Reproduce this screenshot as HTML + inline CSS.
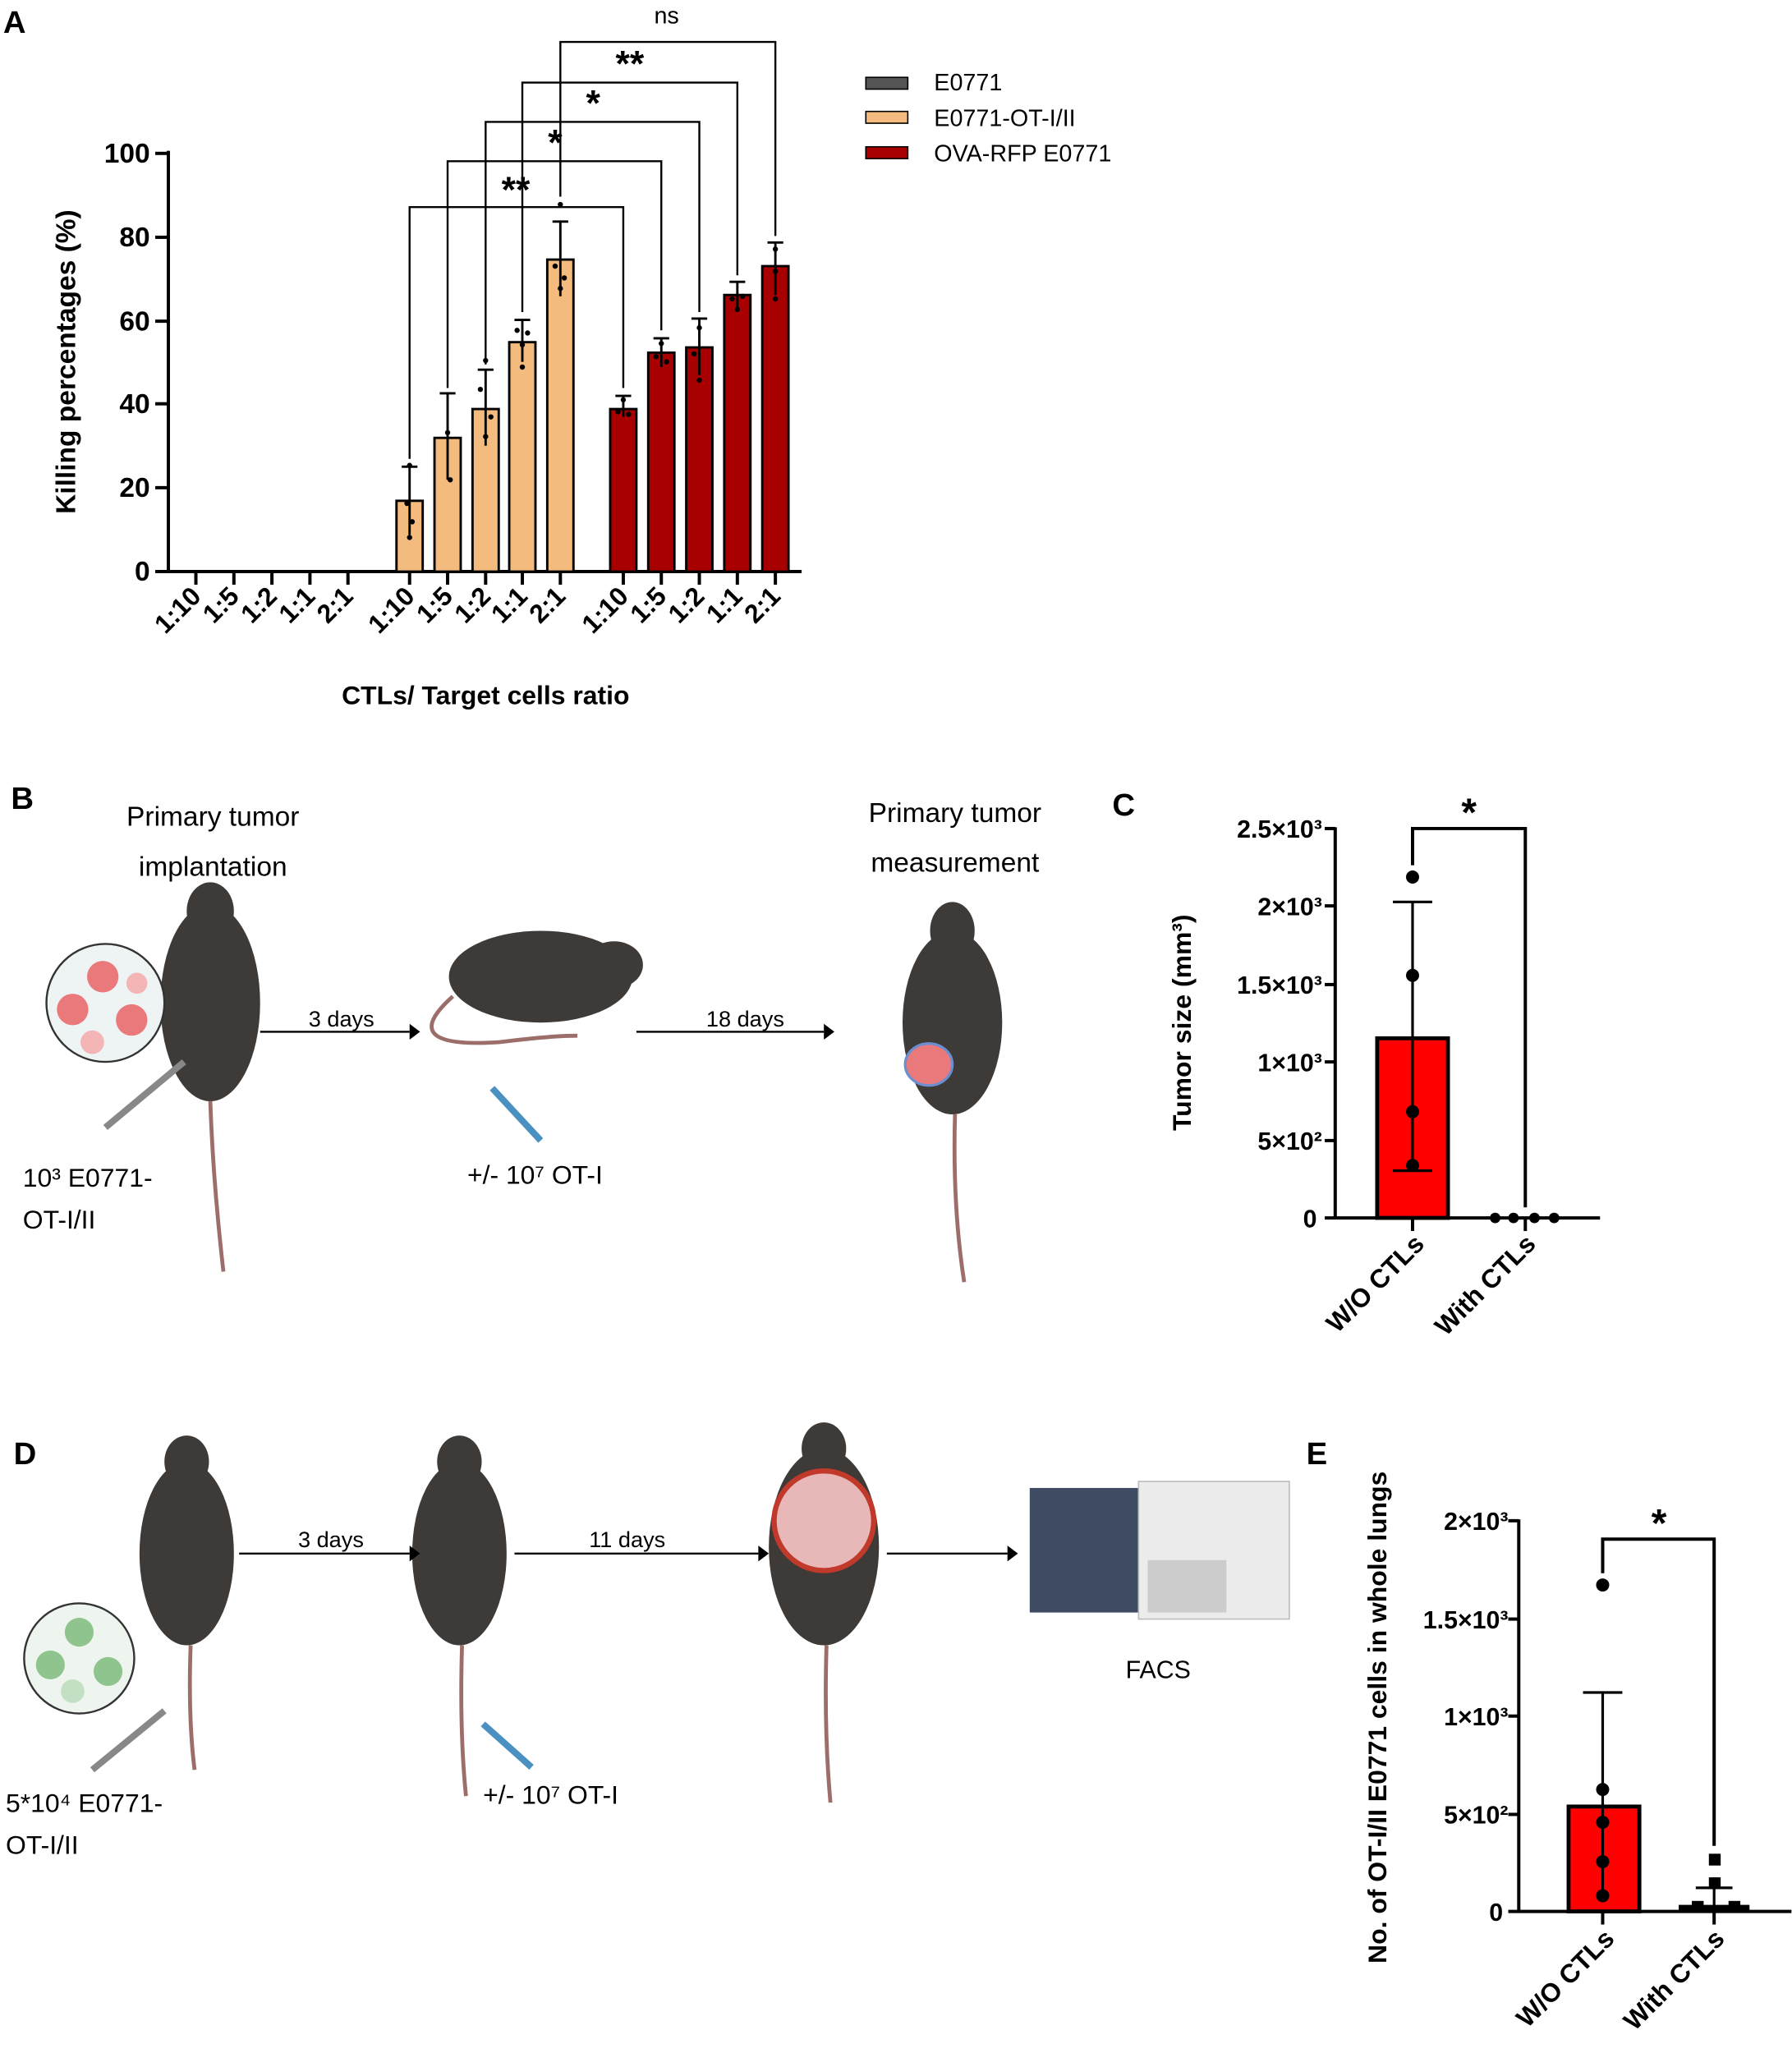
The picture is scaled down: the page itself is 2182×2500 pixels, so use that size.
<!DOCTYPE html>
<html><head><meta charset="utf-8"><style>
html,body{margin:0;padding:0;background:#fff}
svg{display:block}
text{font-family:"Liberation Sans",sans-serif}
</style></head><body>
<svg width="2182" height="2500" viewBox="0 0 1366 1566" xmlns="http://www.w3.org/2000/svg">
<rect width="1366" height="1566" fill="#fff"/>
<!-- Panel A -->
<text x="2" y="25" font-size="24" font-weight="bold">A</text>
<g stroke="#000" stroke-width="2.5" fill="none">
<line x1="128" y1="115" x2="128" y2="437"/>
<line x1="118" y1="436" x2="611" y2="436"/>
<line x1="118" y1="117" x2="128" y2="117"/><line x1="118" y1="181" x2="128" y2="181"/><line x1="118" y1="245" x2="128" y2="245"/><line x1="118" y1="308" x2="128" y2="308"/><line x1="118" y1="372" x2="128" y2="372"/>
</g>
<g font-size="21" font-weight="bold" text-anchor="end">
<text x="114" y="124">100</text><text x="114" y="188">80</text><text x="114" y="252">60</text><text x="114" y="315">40</text><text x="114" y="379">20</text><text x="114" y="443">0</text>
</g>
<text transform="translate(57,276) rotate(-90)" font-size="21" font-weight="bold" text-anchor="middle">Killing percentages (%)</text>
<g stroke="#000" stroke-width="2.5">
<line x1="149" y1="436" x2="149" y2="446"/><line x1="178" y1="436" x2="178" y2="446"/><line x1="207" y1="436" x2="207" y2="446"/><line x1="236" y1="436" x2="236" y2="446"/><line x1="265" y1="436" x2="265" y2="446"/>
<line x1="312" y1="436" x2="312" y2="446"/><line x1="341" y1="436" x2="341" y2="446"/><line x1="370" y1="436" x2="370" y2="446"/><line x1="398" y1="436" x2="398" y2="446"/><line x1="427" y1="436" x2="427" y2="446"/>
<line x1="475" y1="436" x2="475" y2="446"/><line x1="504" y1="436" x2="504" y2="446"/><line x1="533" y1="436" x2="533" y2="446"/><line x1="562" y1="436" x2="562" y2="446"/><line x1="591" y1="436" x2="591" y2="446"/>
</g>
<g font-size="20" font-weight="bold" text-anchor="end">
<text transform="translate(154,456) rotate(-45)">1:10</text><text transform="translate(183,456) rotate(-45)">1:5</text><text transform="translate(212,456) rotate(-45)">1:2</text><text transform="translate(241,456) rotate(-45)">1:1</text><text transform="translate(270,456) rotate(-45)">2:1</text>
<text transform="translate(317,456) rotate(-45)">1:10</text><text transform="translate(346,456) rotate(-45)">1:5</text><text transform="translate(375,456) rotate(-45)">1:2</text><text transform="translate(403,456) rotate(-45)">1:1</text><text transform="translate(432,456) rotate(-45)">2:1</text>
<text transform="translate(480,456) rotate(-45)">1:10</text><text transform="translate(509,456) rotate(-45)">1:5</text><text transform="translate(538,456) rotate(-45)">1:2</text><text transform="translate(567,456) rotate(-45)">1:1</text><text transform="translate(596,456) rotate(-45)">2:1</text>
</g>
<text x="370" y="537" font-size="20" font-weight="bold" text-anchor="middle">CTLs/ Target cells ratio</text>
<g stroke="#000" stroke-width="1.8">
<rect x="302" y="382" width="20" height="54" fill="#f4bb7e"/>
<rect x="331" y="334" width="20" height="102" fill="#f4bb7e"/>
<rect x="360" y="312" width="20" height="124" fill="#f4bb7e"/>
<rect x="388" y="261" width="20" height="175" fill="#f4bb7e"/>
<rect x="417" y="198" width="20" height="238" fill="#f4bb7e"/>
<rect x="465" y="312" width="20" height="124" fill="#a80000"/>
<rect x="494" y="269" width="20" height="167" fill="#a80000"/>
<rect x="523" y="265" width="20" height="171" fill="#a80000"/>
<rect x="552" y="225" width="20" height="211" fill="#a80000"/>
<rect x="581" y="203" width="20" height="233" fill="#a80000"/>
<path d="M312 356V408M306 356h12M341 300V366M335 300h12M370 282V340M364 282h12M398 244V276M392 244h12M427 169V226M421 169h12M475 302V318M469 302h12M504 258V280M498 258h12M533 243V286M527 243h12M562 215V235M556 215h12M591 185V225M585 185h12" fill="none"/>
</g>
<g fill="#000">
<circle cx="312" cy="355" r="2"/><circle cx="310" cy="384" r="2"/><circle cx="314" cy="398" r="2"/><circle cx="312" cy="410" r="2"/>
<circle cx="341" cy="330" r="2"/><circle cx="343" cy="366" r="2"/>
<circle cx="370" cy="275" r="2"/><circle cx="366" cy="297" r="2"/><circle cx="374" cy="318" r="2"/><circle cx="370" cy="333" r="2"/>
<circle cx="394" cy="252" r="2"/><circle cx="402" cy="254" r="2"/><circle cx="398" cy="263" r="2"/><circle cx="398" cy="280" r="2"/>
<circle cx="427" cy="156" r="2"/><circle cx="423" cy="203" r="2"/><circle cx="430" cy="212" r="2"/><circle cx="427" cy="220" r="2"/>
<circle cx="471" cy="314" r="2"/><circle cx="479" cy="316" r="2"/><circle cx="475" cy="305" r="2"/>
<circle cx="504" cy="262" r="2"/><circle cx="500" cy="272" r="2"/><circle cx="508" cy="276" r="2"/>
<circle cx="533" cy="250" r="2"/><circle cx="529" cy="270" r="2"/><circle cx="533" cy="290" r="2"/>
<circle cx="558" cy="228" r="2"/><circle cx="566" cy="226" r="2"/><circle cx="562" cy="236" r="2"/>
<circle cx="591" cy="190" r="2"/><circle cx="591" cy="207" r="2"/><circle cx="591" cy="228" r="2"/>
</g>
<g stroke="#000" stroke-width="1.5" fill="none">
<path d="M312 350V158H475V296"/><path d="M341 296V123H504V252"/><path d="M370 278V93H533V238"/><path d="M398 238V63H562V210"/><path d="M427 150V32H591V180"/>
</g>
<g font-size="28" font-weight="bold" text-anchor="middle">
<text x="393" y="154">**</text><text x="423" y="118">*</text><text x="452" y="88">*</text><text x="480" y="58">**</text>
</g>
<text x="508" y="18" font-size="18" text-anchor="middle">ns</text>
<rect x="660" y="59" width="32" height="9" fill="#555" stroke="#000"/>
<rect x="660" y="85" width="32" height="9" fill="#f4bb7e" stroke="#000"/>
<rect x="660" y="112" width="32" height="9" fill="#a80000" stroke="#000"/>
<g font-size="18"><text x="712" y="69">E0771</text><text x="712" y="96">E0771-OT-I/II</text><text x="712" y="123">OVA-RFP E0771</text></g>

<!-- Panel B -->
<text x="8" y="617" font-size="24" font-weight="bold">B</text>
<g font-size="21" text-anchor="middle"><text x="162" y="630">Primary tumor</text><text x="162" y="668">implantation</text>
<text x="728" y="627">Primary tumor</text><text x="728" y="665">measurement</text></g>
<g fill="#3d3a38">
<ellipse cx="160" cy="765" rx="38" ry="75"/><ellipse cx="160" cy="695" rx="18" ry="22"/>
<ellipse cx="412" cy="745" rx="70" ry="35"/><ellipse cx="468" cy="736" rx="22" ry="18"/>
<ellipse cx="726" cy="780" rx="38" ry="70"/><ellipse cx="726" cy="710" rx="17" ry="22"/>
</g>
<g stroke="#9b6e6a" stroke-width="3" fill="none">
<path d="M160 840 Q162 900 170 970"/><path d="M345 760 Q300 800 380 795 Q420 790 440 790"/><path d="M728 850 Q726 920 735 978"/>
</g>
<circle cx="80" cy="765" r="45" fill="#eef4f4" stroke="#333" stroke-width="1.5"/>
<g fill="#e9797b"><circle cx="78" cy="745" r="12"/><circle cx="55" cy="770" r="12"/><circle cx="100" cy="778" r="12"/><circle cx="70" cy="795" r="9" fill="#f3b5b5"/><circle cx="104" cy="750" r="8" fill="#f3b5b5"/></g>
<ellipse cx="708" cy="812" rx="18" ry="16" fill="#e9797b" stroke="#6a8fd0" stroke-width="2"/>
<line x1="80" y1="860" x2="140" y2="810" stroke="#888" stroke-width="5"/>
<line x1="375" y1="830" x2="412" y2="870" stroke="#4a90c0" stroke-width="5"/>
<g stroke="#000" stroke-width="1.5"><line x1="198" y1="787" x2="312" y2="787"/><line x1="485" y1="787" x2="628" y2="787"/></g>
<path d="M312 781l8 6-8 6z M628 781l8 6-8 6z"/>
<g font-size="17" text-anchor="middle"><text x="260" y="783">3 days</text><text x="568" y="783">18 days</text></g>
<g font-size="20"><text x="17" y="905">10³ E0771-</text><text x="17" y="937">OT-I/II</text><text x="356" y="903">+/- 10⁷ OT-I</text></g>

<!-- Panel C -->
<text x="848" y="622" font-size="24" font-weight="bold">C</text>
<g stroke="#000" stroke-width="2.5" fill="none">
<line x1="1018" y1="631" x2="1018" y2="930"/><line x1="1010" y1="929" x2="1220" y2="929"/>
<line x1="1010" y1="632" x2="1018" y2="632"/><line x1="1010" y1="691" x2="1018" y2="691"/><line x1="1010" y1="751" x2="1018" y2="751"/><line x1="1010" y1="810" x2="1018" y2="810"/><line x1="1010" y1="870" x2="1018" y2="870"/>
<line x1="1077" y1="929" x2="1077" y2="939"/><line x1="1163" y1="929" x2="1163" y2="939"/>
</g>
<g font-size="19" font-weight="bold" text-anchor="end">
<text x="1008" y="639">2.5×10³</text><text x="1008" y="698">2×10³</text><text x="1008" y="758">1.5×10³</text><text x="1008" y="817">1×10³</text><text x="1008" y="877">5×10²</text><text x="1004" y="936">0</text>
</g>
<text transform="translate(908,780) rotate(-90)" font-size="20" font-weight="bold" text-anchor="middle">Tumor size (mm³)</text>
<rect x="1050" y="792" width="54" height="137" fill="#ff0000" stroke="#000" stroke-width="3"/>
<path d="M1077 688V893M1062 688h30M1062 893h30" stroke="#000" stroke-width="2" fill="none"/>
<g fill="#000"><circle cx="1077" cy="669" r="5"/><circle cx="1077" cy="744" r="5"/><circle cx="1077" cy="848" r="5"/><circle cx="1077" cy="889" r="5"/>
<circle cx="1140" cy="929" r="4"/><circle cx="1154" cy="929" r="4"/><circle cx="1170" cy="929" r="4"/><circle cx="1185" cy="929" r="4"/></g>
<path d="M1077 660V632H1163V921" stroke="#000" stroke-width="2.5" fill="none"/>
<text x="1120" y="630" font-size="30" font-weight="bold" text-anchor="middle">*</text>
<g font-size="20" font-weight="bold" text-anchor="end">
<text transform="translate(1087,950) rotate(-45)">W/O CTLs</text><text transform="translate(1172,950) rotate(-45)">With CTLs</text>
</g>

<!-- Panel D -->
<text x="10" y="1117" font-size="24" font-weight="bold">D</text>
<g fill="#3d3a38">
<ellipse cx="142" cy="1185" rx="36" ry="70"/><ellipse cx="142" cy="1115" rx="17" ry="20"/>
<ellipse cx="350" cy="1185" rx="36" ry="70"/><ellipse cx="350" cy="1115" rx="17" ry="20"/>
<ellipse cx="628" cy="1180" rx="42" ry="75"/><ellipse cx="628" cy="1105" rx="17" ry="20"/>
</g>
<circle cx="628" cy="1160" r="38" fill="#e8b8b8" stroke="#c0392b" stroke-width="4"/>
<g stroke="#9b6e6a" stroke-width="3" fill="none"><path d="M145 1255 Q143 1310 148 1350"/><path d="M352 1255 Q350 1320 355 1370"/><path d="M630 1255 Q628 1320 633 1375"/></g>
<circle cx="60" cy="1265" r="42" fill="#eef4ee" stroke="#333" stroke-width="1.5"/>
<g fill="#8fc48f"><circle cx="60" cy="1245" r="11"/><circle cx="38" cy="1270" r="11"/><circle cx="82" cy="1275" r="11"/><circle cx="55" cy="1290" r="9" fill="#c4e0c4"/></g>
<line x1="70" y1="1350" x2="125" y2="1305" stroke="#888" stroke-width="5"/>
<line x1="368" y1="1315" x2="405" y2="1348" stroke="#4a90c0" stroke-width="5"/>
<rect x="785" y="1135" width="100" height="95" fill="#3f4b63"/>
<rect x="868" y="1130" width="115" height="105" fill="#ececec" stroke="#bbb"/>
<rect x="875" y="1190" width="60" height="40" fill="#ccc"/>
<g stroke="#000" stroke-width="1.5"><line x1="182" y1="1185" x2="312" y2="1185"/><line x1="392" y1="1185" x2="578" y2="1185"/><line x1="676" y1="1185" x2="768" y2="1185"/></g>
<path d="M312 1179l8 6-8 6z M578 1179l8 6-8 6z M768 1179l8 6-8 6z"/>
<g font-size="17" text-anchor="middle"><text x="252" y="1180">3 days</text><text x="478" y="1180">11 days</text></g>
<text x="883" y="1280" font-size="19" text-anchor="middle">FACS</text>
<g font-size="20"><text x="4" y="1382">5*10⁴ E0771-</text><text x="4" y="1414">OT-I/II</text><text x="368" y="1376">+/- 10⁷ OT-I</text></g>

<!-- Panel E -->
<text x="996" y="1117" font-size="24" font-weight="bold">E</text>
<g stroke="#000" stroke-width="2.5" fill="none">
<line x1="1158" y1="1159" x2="1158" y2="1459"/><line x1="1150" y1="1458" x2="1366" y2="1458"/>
<line x1="1150" y1="1160" x2="1158" y2="1160"/><line x1="1150" y1="1235" x2="1158" y2="1235"/><line x1="1150" y1="1309" x2="1158" y2="1309"/><line x1="1150" y1="1384" x2="1158" y2="1384"/>
<line x1="1222" y1="1458" x2="1222" y2="1468"/><line x1="1307" y1="1458" x2="1307" y2="1468"/>
</g>
<g font-size="19" font-weight="bold" text-anchor="end">
<text x="1150" y="1167">2×10³</text><text x="1150" y="1242">1.5×10³</text><text x="1150" y="1316">1×10³</text><text x="1150" y="1391">5×10²</text><text x="1146" y="1465">0</text>
</g>
<text transform="translate(1057,1310) rotate(-90)" font-size="20" font-weight="bold" text-anchor="middle">No. of OT-I/II E0771 cells in whole lungs</text>
<rect x="1196" y="1378" width="54" height="80" fill="#ff0000" stroke="#000" stroke-width="3"/>
<rect x="1280" y="1453" width="54" height="5" fill="#000"/>
<path d="M1222 1291V1450M1207 1291h30M1307 1440V1456M1293 1440h28" stroke="#000" stroke-width="2" fill="none"/>
<g fill="#000"><circle cx="1222" cy="1209" r="5"/><circle cx="1222" cy="1365" r="5"/><circle cx="1222" cy="1390" r="5"/><circle cx="1222" cy="1420" r="5"/><circle cx="1222" cy="1446" r="5"/>
<rect x="1303" y="1414" width="9" height="9"/><rect x="1303" y="1432" width="9" height="9"/><rect x="1290" y="1450" width="9" height="9"/><rect x="1318" y="1450" width="9" height="9"/></g>
<path d="M1222 1200V1174H1307V1408" stroke="#000" stroke-width="2.5" fill="none"/>
<text x="1265" y="1172" font-size="30" font-weight="bold" text-anchor="middle">*</text>
<g font-size="20" font-weight="bold" text-anchor="end">
<text transform="translate(1232,1480) rotate(-45)">W/O CTLs</text><text transform="translate(1316,1480) rotate(-45)">With CTLs</text>
</g>
</svg>
</body></html>
